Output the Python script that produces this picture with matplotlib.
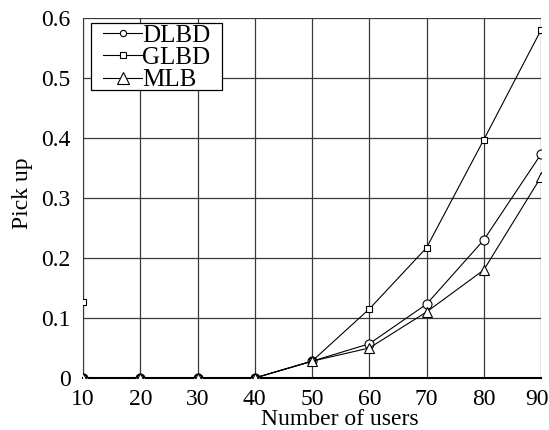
import numpy as np
import matplotlib.pyplot as plt
from matplotlib.transforms import ScaledTranslation
from matplotlib.patches import Rectangle

plt.rcParams['font.family'] = ['Liberation Serif', 'DejaVu Serif']

# data
users = [10, 20, 30, 40, 50, 60, 70, 80, 90]
dlbd = [0, 0, 0, 0, 0.028, 0.057, 0.123, 0.230, 0.373]
glbd = [0, 0, 0, 0, 0.028, 0.115, 0.217, 0.397, 0.580]
mlb = [0, 0, 0, 0, 0.028, 0.050, 0.110, 0.180, 0.335]
glbd_extra_x = [10]
glbd_extra_y = [0.127]

W, H = 549, 430
fig = plt.figure(figsize=(W/100, H/100), dpi=100)
ax = fig.add_axes([83/W, 1-378/H, 458/W, 360/H])

ax.plot(users, dlbd, color='black', lw=0.8, marker='o', ms=6.5,
        mfc='white', mec='black', mew=0.8, label='DLBD', zorder=3)
ax.plot(users, glbd, color='black', lw=0.8, marker='s', ms=5,
        mfc='white', mec='black', mew=0.8, label='GLBD', zorder=3)
ax.plot(users, mlb, color='black', lw=0.8, marker='^', ms=7,
        mfc='white', mec='black', mew=0.8, label='MLB', zorder=3)
ax.plot(glbd_extra_x, glbd_extra_y, ls='none', marker='s', ms=5,
        mfc='white', mec='black', mew=0.8, zorder=3)

ax.set_xlim(10, 90)
ax.set_ylim(0, 0.6)
ax.set_xticks(np.arange(10, 91, 10))
ax.set_yticks(np.arange(0, 0.61, 0.1))
ax.set_yticklabels(['0', '0.1', '0.2', '0.3', '0.4', '0.5', '0.6'])
ax.tick_params(length=0, labelsize=17)
ax.tick_params(axis='x', pad=8)
ax.tick_params(axis='y', pad=9)
# last x label pulled in a little, as in the reference
lab = ax.get_xticklabels()[-1]
lab.set_transform(lab.get_transform() + ScaledTranslation(-4/100, 0, fig.dpi_scale_trans))

ax.grid(True, color='#3a3a3a', lw=0.9)
ax.set_axisbelow(True)
for s in ['top', 'right']:
    ax.spines[s].set_visible(False)
ax.spines['left'].set_color('#3a3a3a')
ax.spines['bottom'].set_color('black')
ax.spines['bottom'].set_linewidth(1.5)

ax.set_xlabel('Number of users', fontsize=17)
ax.xaxis.set_label_coords(0.561, -0.085)
ax.set_ylabel('Pick up', fontsize=17)
ax.yaxis.set_label_coords(-0.109, 0.514)

# legend box drawn by hand (wider side padding than top/bottom)
box = Rectangle((91/W, 1-90/H), 131/W, 67/H, transform=fig.transFigure,
                facecolor='white', edgecolor='black', lw=0.9, zorder=4)
fig.add_artist(box)
leg = fig.legend(*ax.get_legend_handles_labels(), loc='upper left',
                 bbox_to_anchor=(103/W, 1-24/H), fontsize=18, frameon=False,
                 handlelength=1.56, handletextpad=0.0, borderpad=0.0,
                 labelspacing=0.0, borderaxespad=0.0)
leg.set_zorder(5)
for h, ms in zip(leg.legend_handles, [4.5, 3.8, 9]):
    h.set_markersize(ms)

fig.savefig('out.png', dpi=100)
